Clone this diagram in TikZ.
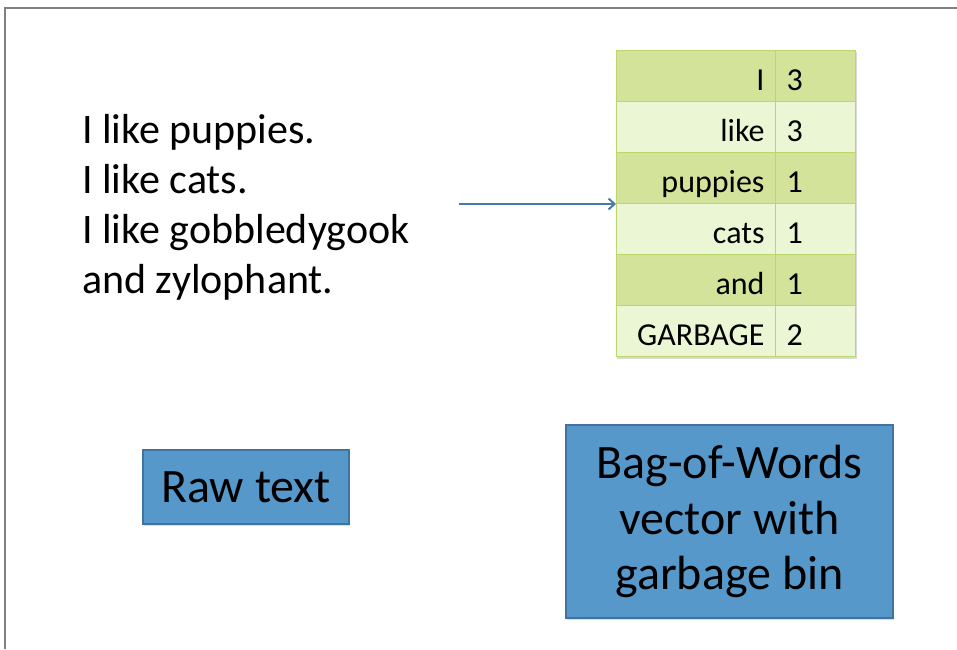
\documentclass[tikz,border=0pt]{standalone}
\usepackage{fontspec}
\setmainfont{Carlito}
\usepackage{tikz}
\usetikzlibrary{arrows.meta,shadows}

\definecolor{boxblue}{RGB}{86,152,202}
\definecolor{boxedge}{RGB}{66,114,158}
\definecolor{rowdark}{RGB}{211,227,153}
\definecolor{rowlight}{RGB}{235,247,212}
\definecolor{rowedge}{RGB}{186,214,108}
\definecolor{arrowblue}{RGB}{72,122,170}

\tikzset{
  label box/.style={draw=boxedge, fill=boxblue, line width=1.2pt, align=center,
    drop shadow={shadow xshift=1pt, shadow yshift=-2pt, opacity=.25}},
  word cell/.style={draw=rowedge, line width=1pt, anchor=north west, minimum width=159pt,
    minimum height=51pt, text width=137pt, text height=32pt, text depth=4pt, align=right,
    inner xsep=11pt, inner ysep=0pt, font=\fontsize{32}{36}\selectfont},
  count cell/.style={draw=rowedge, line width=1pt, anchor=north west, minimum width=80pt,
    minimum height=51pt, text width=58pt, text height=32pt, text depth=4pt, align=left,
    inner xsep=11pt, inner ysep=0pt, font=\fontsize{32}{36}\selectfont}
}

\begin{document}
\begin{tikzpicture}[x=1pt, y=-1pt]
	\useasboundingbox (0,0) rectangle (957,649);
	\draw[color=gray, line width=2pt] (957,8) -- (5,8) -- (5,649);
	\node[anchor=base west, inner sep=0pt, align=left, font=\fontsize{42}{50}\selectfont] (raw) at (82,293)
	  {I like puppies.\\I like cats.\\I like gobbledygook\\and zylophant.};
	\fill[black, opacity=.15] (617,52) rectangle (857,359);
	\foreach \w/\n/\c [count=\i from 0] in {I/3/rowdark, like/3/rowlight, puppies/1/rowdark,
	    cats/1/rowlight, and/1/rowdark, GARBAGE/2/rowlight} {
	  \node[word cell, fill=\c] (w\i) at (616,50+51*\i) {\w};
	  \node[count cell, fill=\c] (n\i) at (775,50+51*\i) {\n};
	}
	\coordinate (src) at ([xshift=-157pt]w2.south west);
	\draw[arrowblue, line width=2pt, -{Straight Barb[length=6pt, width=11pt]}] (src) -- (w2.south west);
	\node[label box, minimum width=206pt, minimum height=74pt, font=\fontsize{48}{58}\selectfont] (rawlabel) at (246,487) {Raw text};
	\node[label box, minimum width=327pt, minimum height=193pt, font=\fontsize{48}{55.5}\selectfont] (bowlabel) at (729.5,521.5)
	  {Bag-of-Words\\vector with\\garbage bin};
\end{tikzpicture}
\end{document}
